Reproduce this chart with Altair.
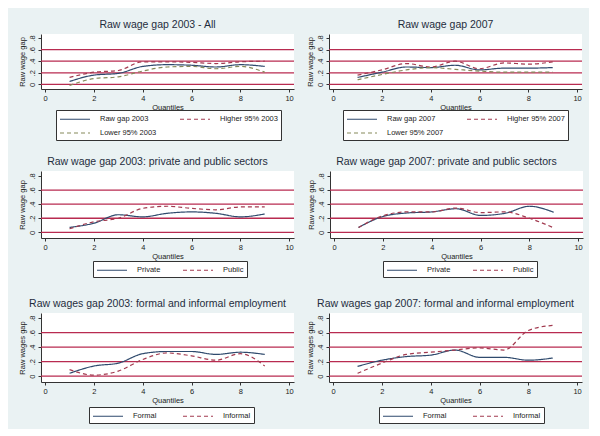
import altair as alt
import pandas as pd

quantiles = [1, 2, 3, 4, 5, 6, 7, 8, 9]
x_ticks = [0, 2, 4, 6, 8, 10]
y_ticks = [0, 0.2, 0.4, 0.6, 0.8]
yline_values = [0, 0.2, 0.4, 0.6]

# panel 1: 2003 all
raw_2003 = [0.05, 0.16, 0.19, 0.31, 0.34, 0.33, 0.30, 0.34, 0.31]
high_2003 = [0.12, 0.21, 0.24, 0.39, 0.39, 0.38, 0.36, 0.39, 0.40]
low_2003 = [-0.02, 0.10, 0.13, 0.23, 0.30, 0.31, 0.27, 0.31, 0.21]
# panel 2: 2007 all
raw_2007 = [0.12, 0.21, 0.30, 0.29, 0.33, 0.25, 0.28, 0.28, 0.29]
high_2007 = [0.16, 0.25, 0.36, 0.30, 0.40, 0.27, 0.37, 0.35, 0.39]
low_2007 = [0.08, 0.17, 0.25, 0.29, 0.26, 0.23, 0.21, 0.21, 0.21]
# panels 3-4: sectors
private_2003 = [0.07, 0.13, 0.25, 0.22, 0.27, 0.29, 0.27, 0.22, 0.26]
public_2003 = [0.05, 0.15, 0.20, 0.34, 0.37, 0.34, 0.32, 0.36, 0.36]
private_2007 = [0.07, 0.225, 0.275, 0.29, 0.335, 0.24, 0.27, 0.37, 0.285]
public_2007 = [0.07, 0.235, 0.29, 0.29, 0.345, 0.28, 0.29, 0.20, 0.065]
# panels 5-6: formal / informal
formal_2003 = [0.04, 0.14, 0.18, 0.31, 0.34, 0.34, 0.30, 0.33, 0.30]
informal_2003 = [0.09, 0.015, 0.07, 0.23, 0.32, 0.28, 0.22, 0.31, 0.14]
formal_2007 = [0.135, 0.22, 0.27, 0.29, 0.36, 0.26, 0.26, 0.22, 0.25]
informal_2007 = [0.04, 0.18, 0.30, 0.33, 0.36, 0.39, 0.36, 0.63, 0.70]

NAVY = "#2f4a6d"
RED = "#a23b50"
OLIVE = "#858a5a"
GRID = "#b82b50"
FONT = "Liberation Sans"


def panel(title, names, series, colors, dashes, height, ytitle, lx, ly):
    rows = []
    for name, vals in zip(names, series):
        for q, v in zip(quantiles, vals):
            rows.append({"q": q, "v": v, "s": name})
    df = pd.DataFrame(rows)

    yscale = alt.Scale(domain=[-0.08, 0.87], nice=False, zero=False)
    yaxis = alt.Axis(values=y_ticks, title=ytitle, grid=False, labelAngle=270,
                     labelExpr="datum.value == 0 ? '0' : substring(format(datum.value, '.1f'), 1)")
    # long, flat line sample in the legend box (Stata style)
    legend = alt.Legend(
        title=None, orient="none", legendX=lx, legendY=ly, columns=2, direction="horizontal",
        gridAlign="all", strokeColor="#333333", fillColor="white", padding=3,
        symbolType="M-1,0H5", symbolSize=100, symbolStrokeWidth=1.2,
        labelFont=FONT, labelFontSize=7.5, labelColor="#222222",
        labelOffset=29, columnPadding=19, rowPadding=4,
    )

    grid = alt.Chart(pd.DataFrame({"y": yline_values})).mark_rule(
        color=GRID, strokeWidth=1.3
    ).encode(y=alt.Y("y:Q", scale=yscale, axis=yaxis))

    lines = alt.Chart(df).mark_line(interpolate="monotone", strokeWidth=1.2).encode(
        x=alt.X("q:Q", scale=alt.Scale(domain=[-0.17, 10.2], nice=False, zero=False),
                axis=alt.Axis(values=x_ticks, title="Quantiles", grid=False)),
        y=alt.Y("v:Q", scale=yscale, axis=yaxis),
        color=alt.Color("s:N", scale=alt.Scale(domain=names, range=colors), legend=legend),
        strokeDash=alt.StrokeDash("s:N", scale=alt.Scale(domain=names, range=dashes), legend=legend),
    )

    return alt.layer(grid, lines).properties(
        width=253, height=height, title=alt.TitleParams(title, dx=-10)
    )


solid = [1, 0]
dash = [4, 3]

p1 = panel("Raw wage gap 2003 - All",
           ["Raw gap 2003", "Higher 95% 2003", "Lower 95% 2003"],
           [raw_2003, high_2003, low_2003], [NAVY, RED, OLIVE], [solid, dash, dash],
           55, "Raw wage gap", 15, 76)
p2 = panel("Raw wage gap 2007",
           ["Raw gap 2007", "Higher 95% 2007", "Lower 95% 2007"],
           [raw_2007, high_2007, low_2007], [NAVY, RED, OLIVE], [solid, dash, dash],
           55, "Raw wage gap", 14, 76)
p3 = panel("Raw wage gap 2003: private and public sectors",
           ["Private", "Public"], [private_2003, public_2003], [NAVY, RED], [solid, dash],
           67, "Raw wage gap", 52, 90)
p4 = panel("Raw wage gap 2007: private and public sectors",
           ["Private", "Public"], [private_2007, public_2007], [NAVY, RED], [solid, dash],
           67, "Raw wage gap", 53, 90)
p5 = panel("Raw wages gap 2003: formal and informal employment",
           ["Formal", "Informal"], [formal_2003, informal_2003], [NAVY, RED], [solid, dash],
           69, "Raw wages gap", 48, 94)
p6 = panel("Raw wages gap 2007: formal and informal employment",
           ["Formal", "Informal"], [formal_2007, informal_2007], [NAVY, RED], [solid, dash],
           69, "Raw wages gap", 50, 94)


def independent(c):
    return c.resolve_scale(
        color="independent", strokeDash="independent", x="independent", y="independent"
    ).resolve_legend(color="independent", strokeDash="independent")


def row(a, b):
    return independent(alt.hconcat(a, b, spacing=11))


top = independent(alt.vconcat(row(p1, p2), row(p3, p4), spacing=15))
chart = independent(alt.vconcat(top, row(p5, p6), spacing=20)).properties(
    padding={"left": 9, "top": 11, "right": 5, "bottom": 5}
).configure(
    background="#eaf2f3"
).configure_view(
    fill="white", strokeWidth=0
).configure_axis(
    domainColor="#333333", tickColor="#333333", tickSize=3,
    labelFont=FONT, labelFontSize=7.5, labelColor="#222222", labelPadding=2,
    titleFont=FONT, titleFontSize=7.5, titleFontWeight="normal", titleColor="#222222",
    titlePadding=2
).configure_title(
    font=FONT, fontSize=10.5, fontWeight="normal", color="#1f2d3d", anchor="middle", offset=4
)

chart.save("out.html", embed_options={"renderer": "svg", "actions": False})
